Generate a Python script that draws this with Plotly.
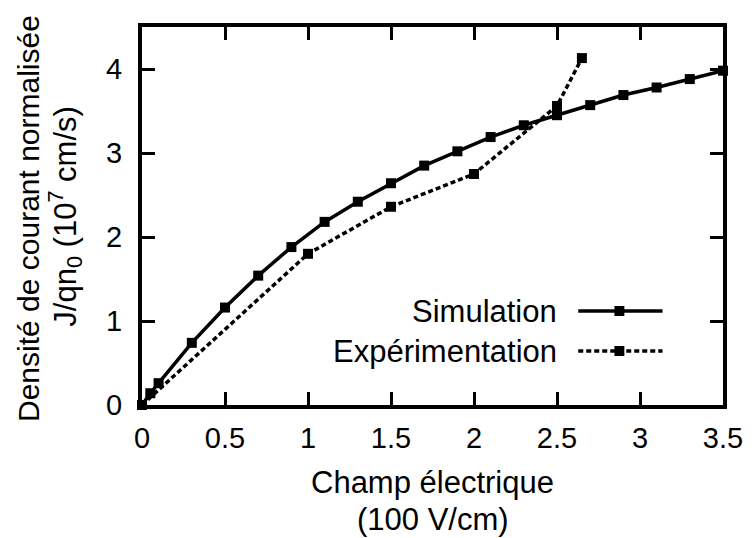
import plotly.graph_objects as go

sim_x = [0, 0.05, 0.1, 0.3, 0.5, 0.7, 0.9, 1.1, 1.3, 1.5, 1.7, 1.9, 2.1, 2.3, 2.5, 2.7, 2.9, 3.1, 3.3, 3.5]
sim_y = [0, 0.14, 0.26, 0.74, 1.16, 1.54, 1.88, 2.18, 2.42, 2.64, 2.85, 3.02, 3.19, 3.33, 3.45, 3.57, 3.69, 3.78, 3.88, 3.98]
exp_x = [0, 1.0, 1.5, 2.0, 2.5, 2.65]
exp_y = [0, 1.80, 2.36, 2.75, 3.56, 4.13]

x_ticks = [0, 0.5, 1, 1.5, 2, 2.5, 3, 3.5]
x_tick_labels = ["0", "0.5", "1", "1.5", "2", "2.5", "3", "3.5"]
y_ticks = [0, 1, 2, 3, 4]

FONT = "Liberation Sans, Arial, sans-serif"
DASH = "5px,3px"

# page has an 8px body margin: figure sized so plot area lands at screen 142..728 x 27..405
OFF = 8
W, H = 755 - OFF, 538 - OFF
L, R, T, B = 142 - OFF, 755 - 728, 27 - OFF, 538 - 405

fig = go.Figure()
fig.add_trace(go.Scatter(x=sim_x, y=sim_y, mode="lines+markers", name="Simulation",
                         line=dict(color="black", width=3.5),
                         marker=dict(symbol="square", size=10, color="black"),
                         cliponaxis=False))
fig.add_trace(go.Scatter(x=exp_x, y=exp_y, mode="lines+markers", name="Expérimentation",
                         line=dict(color="black", width=3.5, dash=DASH),
                         marker=dict(symbol="square", size=10, color="black"),
                         cliponaxis=False))

fig.update_layout(
    width=W, height=H,
    margin=dict(l=L, r=R, t=T, b=B),
    paper_bgcolor="white", plot_bgcolor="white",
    showlegend=False,
    font=dict(family=FONT, size=29, color="black"),
)
axis_style = dict(ticks="inside", ticklen=13, tickwidth=3, tickcolor="black",
                  showline=True, linewidth=4, linecolor="black", mirror="ticks",
                  showgrid=False, zeroline=False, tickfont=dict(size=29))
fig.update_xaxes(range=[0, 3.5], tickvals=x_ticks, ticktext=x_tick_labels,
                 ticklabelstandoff=4, **axis_style)
fig.update_yaxes(range=[0, 4.5], tickvals=y_ticks, ticklabelstandoff=10, **axis_style)

pw = W - L - R
ph = H - T - B
def px(xs):
    return (xs - OFF - L) / pw
def py(ys):
    return 1 - (ys - OFF - T) / ph

TS = 31
anns = [
    dict(text="Champ électrique", x=px(435), y=py(482), size=TS),
    dict(text="(100 V/cm)", x=px(435), y=py(519), size=TS),
    dict(text="Densité de courant normalisée", x=px(27), y=py(218), textangle=-90, size=30),
    dict(text="J/qn<sub>0</sub> (10<sup>7</sup> cm/s)", x=px(64), y=py(216), textangle=-90, size=TS),
]
for a in anns:
    sz = a.pop("size")
    fig.add_annotation(xref="paper", yref="paper", showarrow=False,
                       xanchor="center", yanchor="middle",
                       font=dict(size=sz, family=FONT, color="black"), **a)

# legend (gnuplot-style: label, then sample on its right)
legend_items = [("Simulation", 311, "solid"), ("Expérimentation", 351, DASH)]
for label, yy, dash in legend_items:
    fig.add_annotation(xref="paper", yref="paper", showarrow=False,
                       xanchor="right", yanchor="middle", x=px(563), y=py(yy),
                       text=label, font=dict(size=TS, family=FONT, color="black"))
    fig.add_shape(type="line", xref="paper", yref="paper",
                  x0=px(582), x1=px(667), y0=py(yy), y1=py(yy),
                  line=dict(color="black", width=3.5, dash=dash))
    fig.add_shape(type="rect", xref="paper", yref="paper",
                  x0=px(618.5), x1=px(628.5), y0=py(yy - 5), y1=py(yy + 5),
                  fillcolor="black", line=dict(width=0))

fig.write_html("out.html")
